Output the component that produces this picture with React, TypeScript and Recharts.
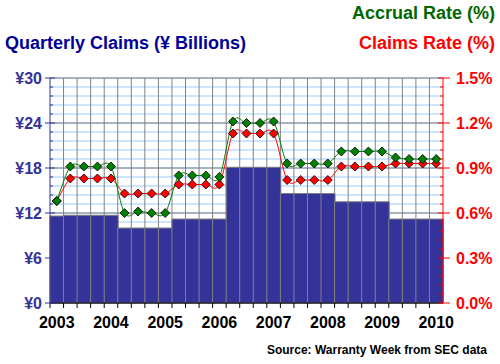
import React from "react";
import { ComposedChart, Bar, Line, XAxis, YAxis, CartesianGrid } from "recharts";

const QUARTERS = [
  "Q4 2003",
  "Q1 2004", "Q2 2004", "Q3 2004", "Q4 2004",
  "Q1 2005", "Q2 2005", "Q3 2005", "Q4 2005",
  "Q1 2006", "Q2 2006", "Q3 2006", "Q4 2006",
  "Q1 2007", "Q2 2007", "Q3 2007", "Q4 2007",
  "Q1 2008", "Q2 2008", "Q3 2008", "Q4 2008",
  "Q1 2009", "Q2 2009", "Q3 2009", "Q4 2009",
  "Q1 2010", "Q2 2010", "Q3 2010", "Q4 2010",
];

// quarterly claims, yen billions
const CLAIMS = [
  11.6,
  11.7, 11.7, 11.7, 11.7,
  10.0, 10.0, 10.0, 10.0,
  11.2, 11.2, 11.2, 11.2,
  18.1, 18.1, 18.1, 18.1,
  14.6, 14.6, 14.6, 14.6,
  13.5, 13.5, 13.5, 13.5,
  11.2, 11.2, 11.2, 11.2,
];

const ACCRUAL_RATE = [
  0.68,
  0.91, 0.91, 0.91, 0.91,
  0.60, 0.61, 0.60, 0.60,
  0.85, 0.85, 0.85, 0.84,
  1.21, 1.20, 1.20, 1.21,
  0.93, 0.93, 0.93, 0.93,
  1.01, 1.01, 1.01, 1.01,
  0.97, 0.96, 0.96, 0.96,
];

const CLAIMS_RATE = [
  0.68,
  0.83, 0.83, 0.83, 0.83,
  0.73, 0.73, 0.73, 0.73,
  0.79, 0.79, 0.79, 0.79,
  1.13, 1.13, 1.13, 1.13,
  0.82, 0.82, 0.82, 0.82,
  0.91, 0.91, 0.91, 0.91,
  0.93, 0.93, 0.93, 0.93,
];

const LEFT_LABELS = [0, 6, 12, 18, 24, 30];
const RIGHT_LABELS = [0, 0.3, 0.6, 0.9, 1.2, 1.5];

const data = QUARTERS.map((q, i) => ({
  q,
  claims: CLAIMS[i],
  accrual: ACCRUAL_RATE[i],
  rate: CLAIMS_RATE[i],
}));

// minor ticks: 4 between each labelled one
const leftTicks: number[] = [];
const rightTicks: number[] = [];
for (let i = 0; i < LEFT_LABELS.length - 1; i++) {
  for (let j = 0; j < 5; j++) {
    leftTicks.push(LEFT_LABELS[i] + ((LEFT_LABELS[i + 1] - LEFT_LABELS[i]) * j) / 5);
    rightTicks.push(RIGHT_LABELS[i] + ((RIGHT_LABELS[i + 1] - RIGHT_LABELS[i]) * j) / 5);
  }
}
leftTicks.push(LEFT_LABELS[LEFT_LABELS.length - 1]);
rightTicks.push(RIGHT_LABELS[RIGHT_LABELS.length - 1]);

const isMajor = (v: number, list: number[]) => list.some((m) => Math.abs(m - v) < 1e-6);

const FONT = "'Liberation Sans', Arial, sans-serif";
const W = 500;
const H = 364;
const M = { top: 78, right: 0, bottom: 0, left: 0 };
const LEFT_W = 50;
const RIGHT_W = 57;
const BAND = (W - LEFT_W - RIGHT_W) / QUARTERS.length;

// smooth line like Excel's (catmull-rom through the points)
const smoothCurve = (context: any) => {
  let pts: number[][] = [];
  return {
    areaStart() {},
    areaEnd() {},
    lineStart() {
      pts = [];
    },
    point(x: number, y: number) {
      pts.push([+x, +y]);
    },
    lineEnd() {
      const n = pts.length;
      if (!n) return;
      context.moveTo(pts[0][0], pts[0][1]);
      const k = 1 / 6;
      for (let i = 0; i < n - 1; i++) {
        const p0 = pts[i - 1] || pts[i];
        const p1 = pts[i];
        const p2 = pts[i + 1];
        const p3 = pts[i + 2] || pts[i + 1];
        context.bezierCurveTo(
          p1[0] + (p2[0] - p0[0]) * k,
          p1[1] + (p2[1] - p0[1]) * k,
          p2[0] - (p3[0] - p1[0]) * k,
          p2[1] - (p3[1] - p1[1]) * k,
          p2[0],
          p2[1]
        );
      }
    },
  };
};

const diamond = (fill: string) => (props: any) => {
  const { cx, cy, index } = props;
  const r = 4.5;
  return (
    <polygon
      key={index}
      points={`${cx},${cy - r} ${cx + r},${cy} ${cx},${cy + r} ${cx - r},${cy}`}
      fill={fill}
      stroke="#000"
      strokeWidth={0.8}
    />
  );
};

const LeftTick = (props: any) => {
  const { x, y, payload } = props;
  const major = isMajor(payload.value, LEFT_LABELS);
  return (
    <g>
      <line x1={major ? x - 5 : x} x2={major ? x + 5 : x + 3} y1={y} y2={y} stroke="#333399" />
      {major && (
        <text x={x - 8} y={y + 6} textAnchor="end" fill="#333399" fontSize={16} fontWeight="bold" fontFamily={FONT}>
          {"¥" + payload.value}
        </text>
      )}
    </g>
  );
};

const RightTick = (props: any) => {
  const { x, y, payload } = props;
  const major = isMajor(payload.value, RIGHT_LABELS);
  return (
    <g>
      <line x1={major ? x - 5 : x - 3} x2={major ? x + 7 : x} y1={y} y2={y} stroke="#ff0000" />
      {major && (
        <text x={x + 13} y={y + 6} textAnchor="start" fill="#ff0000" fontSize={16} fontWeight="bold" fontFamily={FONT}>
          {payload.value.toFixed(1) + "%"}
        </text>
      )}
    </g>
  );
};

const XTick = (props: any) => {
  const { x, y, payload } = props;
  const q: string = payload.value;
  const left = x - BAND / 2;
  return (
    <g>
      <line x1={left} x2={left} y1={y} y2={y + 5} stroke="#000" />
      {q.startsWith("Q4") && (
        <text x={x} y={y + 25} textAnchor="middle" fill="#000" fontSize={16} fontWeight="bold" fontFamily={FONT}>
          {q.slice(3)}
        </text>
      )}
    </g>
  );
};

const minorRows = ({ offset }: any) => {
  const out: number[] = [];
  for (let i = 0; i <= 25; i++) out.push(offset.top + (offset.height * i) / 25);
  return out;
};
const majorRows = ({ offset }: any) => {
  const out: number[] = [];
  for (let i = 0; i <= 5; i++) out.push(offset.top + (offset.height * i) / 5);
  return out;
};
const bandCols = ({ offset }: any) => {
  const out: number[] = [];
  for (let i = 1; i < QUARTERS.length; i++) out.push(offset.left + (offset.width * i) / QUARTERS.length);
  return out;
};

const title = (text: string, color: string, style: React.CSSProperties) => (
  <div
    style={{
      position: "absolute",
      fontFamily: FONT,
      fontWeight: "bold",
      fontSize: 18,
      color,
      whiteSpace: "nowrap",
      lineHeight: "20px",
      ...style,
    }}
  >
    {text}
  </div>
);

export default function App() {
  return (
    <div style={{ position: "absolute", left: 0, top: 0, width: W, height: H, background: "#fff" }}>
      {title("Accrual Rate (%)", "#006600", { right: 5, top: 3 })}
      {title("Claims Rate (%)", "#ff0000", { right: 5, top: 33 })}
      {title("Quarterly Claims (¥ Billions)", "#000099", { left: 5, top: 33 })}
      <ComposedChart width={W} height={H} data={data} margin={M} barCategoryGap={0}>
        <CartesianGrid
          stroke="#99ccff"
          vertical={false}
          horizontalCoordinatesGenerator={minorRows}
        />
        <CartesianGrid
          stroke="#808080"
          horizontalCoordinatesGenerator={majorRows}
          verticalCoordinatesGenerator={bandCols}
        />
        <XAxis
          dataKey="q"
          height={61}
          interval={0}
          stroke="#000"
          tickLine={false}
          tickSize={0}
          tickMargin={0}
          tick={<XTick />}
        />
        <YAxis
          yAxisId="left"
          width={LEFT_W}
          domain={[0, 30]}
          ticks={leftTicks}
          interval={0}
          stroke="#333399"
          tickLine={false}
          tickSize={0}
          tickMargin={0}
          tick={<LeftTick />}
        />
        <YAxis
          yAxisId="right"
          orientation="right"
          width={RIGHT_W}
          domain={[0, 1.5]}
          ticks={rightTicks}
          interval={0}
          stroke="#ff0000"
          tickLine={false}
          tickSize={0}
          tickMargin={0}
          tick={<RightTick />}
        />
        <Bar yAxisId="left" dataKey="claims" fill="#333399" stroke="#808080" strokeWidth={1} isAnimationActive={false} />
        <Line
          yAxisId="right"
          dataKey="rate"
          type={smoothCurve as any}
          stroke="#ff0000"
          strokeWidth={1}
          dot={diamond("#ff0000")}
          activeDot={false}
          isAnimationActive={false}
        />
        <Line
          yAxisId="right"
          dataKey="accrual"
          type={smoothCurve as any}
          stroke="#008000"
          strokeWidth={1}
          dot={diamond("#008000")}
          activeDot={false}
          isAnimationActive={false}
        />
      </ComposedChart>
      <div
        style={{
          position: "absolute",
          right: 13,
          top: 343,
          fontFamily: FONT,
          fontWeight: "bold",
          fontSize: 12,
          color: "#000",
          whiteSpace: "nowrap",
        }}
      >
        Source: Warranty Week from SEC data
      </div>
    </div>
  );
}
